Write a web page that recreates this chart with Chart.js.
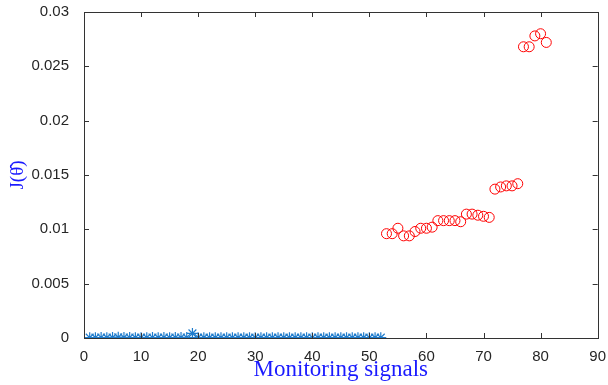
<!DOCTYPE html>
<html>
<head>
<meta charset="utf-8">
<script src="https://cdn.jsdelivr.net/npm/chart.js@4/dist/chart.umd.min.js"></script>
<style>
  html, body { margin: 0; padding: 0; background: #fff; }
  #wrap { width: 608px; height: 385px; }
</style>
</head>
<body>
<div id="wrap"><canvas id="chart" width="608" height="385"></canvas></div>
<script>
// --- Data ---
const normalX = [1,2,3,4,5,6,7,8,9,10,11,12,13,14,15,16,17,18,19,20,21,22,23,24,25,26,
  27,28,29,30,31,32,33,34,35,36,37,38,39,40,41,42,43,44,45,46,47,48,49,50,51,52];
const normalY = [0.00003,0.00003,0.00004,0.00003,0.00005,0.00006,0.00005,0.00004,0.00003,0.00003,
  0.00003,0.00004,0.00003,0.00004,0.00003,0.00004,0.00005,0.00004,0.00042,0.00003,
  0.00003,0.00003,0.00003,0.00003,0.00003,0.00003,0.00003,0.00003,0.00003,0.00003,
  0.00003,0.00003,0.00003,0.00003,0.00003,0.00003,0.00003,0.00003,0.00003,0.00003,
  0.00003,0.00003,0.00003,0.00003,0.00003,0.00003,0.00003,0.00003,0.00003,0.00003,
  0.00003,0.00003];

const faultX = [53,54,55,56,57,58,59,60,61,62,63,64,65,66,67,68,69,70,71,
  72,73,74,75,76,77,78,79,80,81];
const faultY = [0.0096,0.0096,0.0101,0.0094,0.0094,0.0098,0.0101,0.0101,0.0102,0.0108,
  0.0108,0.0108,0.0108,0.0107,0.0114,0.0114,0.0113,0.0112,0.0111,
  0.0137,0.0139,0.0140,0.0140,0.0142,0.0268,0.0268,0.0278,0.0280,0.0272];

const xTicks = [0,10,20,30,40,50,60,70,80,90];
const yTicks = [0,0.005,0.01,0.015,0.02,0.025,0.03];

const toPoints = (xs, ys) => xs.map((x, i) => ({ x: x, y: ys[i] }));

// --- box + inward ticks, MATLAB style ---
const boxPlugin = {
  id: 'box',
  afterDraw(chart) {
    const { ctx, chartArea: a, scales } = chart;
    ctx.save();
    ctx.strokeStyle = '#333';
    ctx.lineWidth = 1;
    ctx.strokeRect(Math.round(a.left) + 0.5, Math.round(a.top) + 0.5,
      Math.round(a.right - a.left), Math.round(a.bottom - a.top));
    ctx.beginPath();
    xTicks.forEach(v => {
      const px = Math.round(scales.x.getPixelForValue(v)) + 0.5;
      ctx.moveTo(px, a.bottom); ctx.lineTo(px, a.bottom - 5);
      ctx.moveTo(px, a.top); ctx.lineTo(px, a.top + 5);
    });
    yTicks.forEach(v => {
      const py = Math.round(scales.y.getPixelForValue(v)) + 0.5;
      ctx.moveTo(a.left, py); ctx.lineTo(a.left + 5, py);
      ctx.moveTo(a.right, py); ctx.lineTo(a.right - 5, py);
    });
    ctx.stroke();
    ctx.restore();
  }
};

const tickFont = { family: 'Liberation Sans, Arial, sans-serif', size: 15 };

new Chart(document.getElementById('chart'), {
  type: 'scatter',
  data: {
    datasets: [
      {
        label: 'normal',
        data: toPoints(normalX, normalY),
        pointStyle: 'star',
        radius: 5.5,
        borderColor: '#1f7ccc',
        backgroundColor: '#1f7ccc',
        borderWidth: 1.2
      },
      {
        label: 'fault',
        data: toPoints(faultX, faultY),
        pointStyle: 'circle',
        radius: 5,
        borderColor: '#ff0000',
        backgroundColor: 'rgba(0,0,0,0)',
        borderWidth: 1
      }
    ]
  },
  options: {
    responsive: false,
    animation: false,
    layout: { padding: { left: 0, right: 8, top: 12, bottom: 0 } },
    plugins: {
      legend: { display: false },
      tooltip: { enabled: false }
    },
    scales: {
      x: {
        type: 'linear',
        min: 0, max: 90,
        afterFit: s => { s.height = 47; },
        afterBuildTicks: s => { s.ticks = xTicks.map(v => ({ value: v })); },
        grid: { display: false },
        border: { display: false },
        ticks: { color: '#262626', font: tickFont, padding: 2, maxRotation: 0 },
        title: {
          display: true,
          text: 'Monitoring signals',
          color: '#1a1aff',
          font: { family: 'Liberation Serif, Times New Roman, serif', size: 23 },
          padding: { top: 0, bottom: 1 }
        }
      },
      y: {
        type: 'linear',
        min: 0, max: 0.03,
        afterFit: s => { s.width = 84; s.paddingTop = 0; s.paddingBottom = 0; },
        afterBuildTicks: s => { s.ticks = yTicks.map(v => ({ value: v })); },
        grid: { display: false },
        border: { display: false },
        ticks: {
          color: '#262626', font: tickFont, padding: 7,
          callback: v => String(+v.toFixed(3))
        },
        title: {
          display: true,
          text: 'J(θ̂)',
          color: '#1a1aff',
          font: { family: 'Liberation Serif, Times New Roman, serif', size: 19 },
          padding: { top: 7, bottom: 0 }
        }
      }
    }
  },
  plugins: [boxPlugin]
});
</script>
</body>
</html>
